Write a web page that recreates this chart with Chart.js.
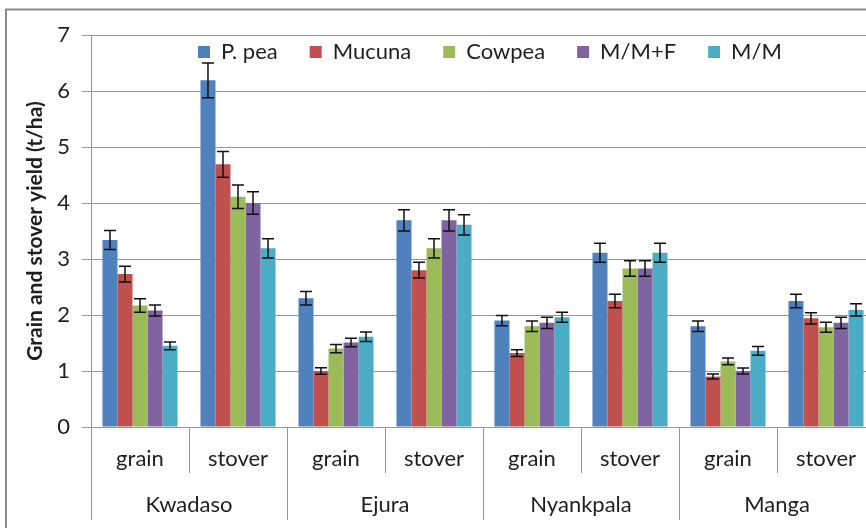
<!DOCTYPE html>
<html>
<head>
<meta charset="utf-8">
<script src="https://cdn.jsdelivr.net/npm/chart.js@4/dist/chart.umd.min.js"></script>
<style>
  html, body { margin: 0; padding: 0; background: #fff; overflow: hidden; }
  #wrap { width: 875px; height: 528px; }
</style>
</head>
<body>
<div id="wrap"><canvas id="c" width="875" height="528"></canvas></div>
<script>
// Yield component under each site
const parts = ['grain', 'stover', 'grain', 'stover', 'grain', 'stover', 'grain', 'stover'];
const sites = ['Kwadaso', 'Ejura', 'Nyankpala', 'Manga'];

// Mean yields (t/ha)
const pPea   = [3.34, 6.19, 2.30, 3.69, 1.90, 3.11, 1.80, 2.25];
const mucuna = [2.73, 4.69, 1.00, 2.80, 1.32, 2.25, 0.90, 1.94];
const cowpea = [2.17, 4.11, 1.40, 3.19, 1.80, 2.83, 1.17, 1.78];
const mmF    = [2.08, 4.00, 1.51, 3.69, 1.86, 2.83, 1.00, 1.86];
const mm     = [1.45, 3.19, 1.61, 3.61, 1.96, 3.11, 1.36, 2.09];

// Error bar half-lengths (t/ha)
const pPeaErr   = [0.17, 0.31, 0.12, 0.19, 0.09, 0.17, 0.095, 0.12];
const mucunaErr = [0.14, 0.23, 0.06, 0.14, 0.06, 0.12, 0.045, 0.10];
const cowpeaErr = [0.12, 0.21, 0.075, 0.17, 0.095, 0.14, 0.06, 0.09];
const mmFErr    = [0.10, 0.20, 0.075, 0.19, 0.10, 0.14, 0.055, 0.10];
const mmErr     = [0.07, 0.17, 0.085, 0.18, 0.09, 0.17, 0.077, 0.11];

const FONT = 'Lato';
const TEXT = '#1f1f1f';
const LINE = '#969696';

// Outer frame around the chart
const frame = {
  id: 'frame',
  beforeDraw(chart) {
    const ctx = chart.ctx;
    ctx.save();
    ctx.fillStyle = '#fff';
    ctx.fillRect(0, 0, chart.width, chart.height);
    ctx.strokeStyle = '#8a8a8a';
    ctx.lineWidth = 2;
    ctx.strokeRect(6, 9.5, chart.width + 20, chart.height + 20);
    ctx.restore();
  }
};

// Legend drawn inside the plot area, without reserving layout space
const legendInPlot = {
  id: 'legendInPlot',
  afterInit(chart) {
    const lg = chart.legend;
    const fit = lg.fit;
    lg.fit = function () { fit.call(this); this.height = 0; };
  },
  afterLayout(chart) {
    const lg = chart.legend;
    const pad = lg.options.labels.padding;
    lg.top = chart.chartArea.top + 6 - pad;
    lg.bottom = lg.top + 120;
    lg.left = 198 - pad;
    lg.right = lg.left + 800;
  }
};

// Capped error bars on every bar
const errorBars = {
  id: 'errorBars',
  afterDatasetsDraw(chart) {
    const ctx = chart.ctx;
    const y = chart.scales.y;
    ctx.save();
    ctx.strokeStyle = '#111';
    ctx.lineWidth = 1.5;
    chart.data.datasets.forEach((ds, di) => {
      const meta = chart.getDatasetMeta(di);
      if (meta.hidden) return;
      meta.data.forEach((bar, i) => {
        const v = ds.data[i], e = ds.errors[i];
        const x = bar.x;
        const yt = y.getPixelForValue(v + e);
        const yb = y.getPixelForValue(v - e);
        ctx.beginPath();
        ctx.moveTo(x, yt); ctx.lineTo(x, yb);
        ctx.moveTo(x - 6, yt); ctx.lineTo(x + 6, yt);
        ctx.moveTo(x - 6, yb); ctx.lineTo(x + 6, yb);
        ctx.stroke();
      });
    });
    ctx.restore();
  }
};

const mk = (label, data, errors, color) => ({
  label, data, errors,
  backgroundColor: color,
  borderWidth: 0,
  categoryPercentage: 0.766,
  barPercentage: 1.0
});

new Chart(document.getElementById('c'), {
  type: 'bar',
  data: {
    labels: parts,
    datasets: [
      mk('P. pea', pPea, pPeaErr, '#4F81BD'),
      mk('Mucuna', mucuna, mucunaErr, '#C0504D'),
      mk('Cowpea', cowpea, cowpeaErr, '#9BBB59'),
      mk('M/M+F', mmF, mmFErr, '#8064A2'),
      mk('M/M', mm, mmErr, '#4BACC6')
    ]
  },
  options: {
    responsive: false,
    animation: false,
    devicePixelRatio: 1,
    layout: { padding: { left: 6, top: 35, right: 0, bottom: 0 } },
    plugins: {
      tooltip: { enabled: false },
      legend: {
        position: 'top',
        align: 'start',
        labels: {
          boxWidth: 12,
          boxHeight: 12,
          padding: 32,
          color: TEXT,
          font: { family: FONT, size: 22 }
        }
      }
    },
    scales: {
      x: {
        type: 'category',
        position: 'bottom',
        weight: 0,
        offset: true,
        afterFit: (s) => { s.height = 46; },
        grid: { offset: true, drawOnChartArea: false, drawTicks: true, tickLength: 46, color: LINE, lineWidth: 1 },
        border: { display: true, color: LINE, width: 1 },
        ticks: { color: TEXT, font: { family: FONT, size: 22 }, padding: -27, maxRotation: 0, autoSkip: false }
      },
      x2: {
        type: 'category',
        labels: sites,
        position: 'bottom',
        weight: 1,
        offset: true,
        afterFit: (s) => { s.height = 55; },
        grid: { offset: true, drawOnChartArea: false, drawTicks: true, tickLength: 47, color: LINE, lineWidth: 1 },
        border: { display: false },
        ticks: { color: TEXT, font: { family: FONT, size: 22 }, padding: -28, maxRotation: 0, autoSkip: false }
      },
      y: {
        min: 0,
        max: 7,
        afterFit: (s) => { s.width = 85; },
        ticks: { stepSize: 1, color: TEXT, font: { family: FONT, size: 22 }, padding: 12 },
        grid: { color: LINE, lineWidth: 1, tickLength: 9, drawTicks: true },
        border: { display: true, color: LINE, width: 1 },
        title: {
          display: true,
          text: 'Grain and stover yield (t/ha)',
          color: TEXT,
          font: { family: FONT, size: 21, weight: 'bold' },
          padding: { top: 17, bottom: 0 }
        }
      }
    }
  },
  plugins: [frame, legendInPlot, errorBars]
});
</script>
</body>
</html>
